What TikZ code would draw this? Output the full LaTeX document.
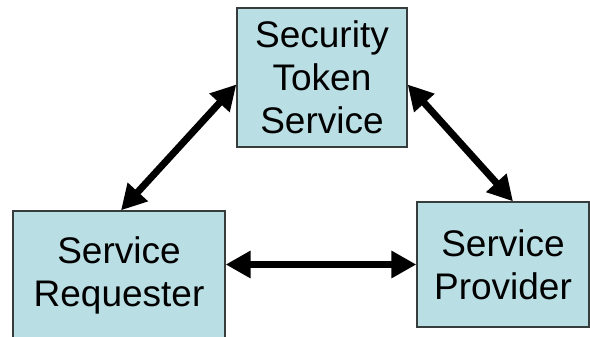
\documentclass[tikz,border=0pt]{standalone}
\usepackage{fontspec}
\setmainfont{Liberation Sans}
\usepackage{tikz}
\usetikzlibrary{calc,arrows.meta}
\definecolor{boxfill}{RGB}{185,222,227}
\definecolor{boxline}{RGB}{55,60,60}
\tikzset{
partybox/.style={
    draw=boxline, rectangle, fill=boxfill, line width=1.3pt,
    inner sep=0pt, text=black, align=center,
    font=\fontsize{37}{43}\selectfont
  }
}

\begin{document}
\begin{tikzpicture}[
 x=1pt, y=1pt,
 link/.style={
        line width=7pt, draw=black,
        {Triangle[length=25pt,width=26pt]}-{Triangle[length=25pt,width=26pt]}
    }
  ]
\useasboundingbox (0,0) rectangle (590,337);

\node[partybox, minimum width=170pt, minimum height=139pt] (sts) at (322,259.5) {Security\\Token\\Service};
\node[partybox, minimum width=212pt, minimum height=128pt] (req) at (119,62) {Service\\Requester};
\node[partybox, minimum width=172pt, minimum height=125pt] (prov) at (503,72.5) {Service\\Provider};

\draw[link] ($(sts.west)+(0,-7)$) -- ($(req.north)+(2,0)$);
\draw[link] ($(sts.east)+(0,-7)$) -- ($(prov.north)+(10,0)$);
\draw[link] (req.east |- prov.center) -- (prov.west);
\end{tikzpicture}
\end{document}
